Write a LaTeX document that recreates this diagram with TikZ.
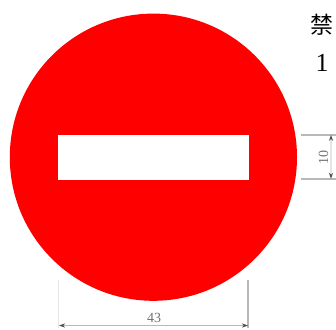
\documentclass[tikz,border=0pt]{standalone}
\usepackage{fontspec}
\setmainfont{Liberation Serif}
\newfontfamily\cjk{Noto Sans CJK SC}
\usetikzlibrary{arrows.meta}
\definecolor{dimgray}{gray}{0.72}
\definecolor{fainter}{gray}{0.90}
\tikzset{
  extline/.style={draw=dimgray,line width=1.4pt},
  faintline/.style={draw=fainter,line width=1.2pt},
  dimline/.style={draw=dimgray,line width=1.4pt,{Stealth[length=6pt,width=4pt,color=black!70]}-{Stealth[length=6pt,width=4pt,color=black!70]}},
  dimtext/.style={text=black!55,font=\fontsize{14}{14}\selectfont,inner sep=0pt},
  sidetext/.style={text=black,inner sep=0pt}
}
\begin{document}
\begin{tikzpicture}[x=1pt,y=-1pt]
\useasboundingbox (0,0) rectangle (336,329);
\fill[white] (0,0) rectangle (336,329);
\fill[red] (153.4,157.2) circle (143.6);
\node[fill=white,minimum width=190.4pt,minimum height=44.7pt,inner sep=0pt,outer sep=0pt] (bar) at (153.5,157.3) {};
\coordinate (wl) at (58.5,280);
\coordinate (wlb) at (58.5,328);
\coordinate (wr) at (247.8,280);
\coordinate (wrb) at (247.8,328);
\coordinate (ht) at (301,134.8);
\coordinate (htr) at (336,134.8);
\coordinate (hb) at (301,178.8);
\coordinate (hbr) at (336,178.8);
\coordinate (da) at (59,325.5);
\coordinate (db) at (248,325.5);
\coordinate (dc) at (331,134.8);
\coordinate (dd) at (331,178.8);
\draw[faintline] (wl) -- (wlb);
\draw[extline] (wr) -- (wrb);
\draw[extline] (ht) -- (htr);
\draw[extline] (hb) -- (hbr);
\draw[dimline] (da) -- (db);
\draw[faintline,{Stealth[length=6pt,width=4pt,color=black!70]}-{Stealth[length=6pt,width=4pt,color=black!70]}] (dc) -- (dd);
\node[dimtext] (w) at (154,318) {43};
\node[dimtext,rotate=90] (h) at (323.5,157) {10};
\node[sidetext,font=\cjk\fontsize{23}{23}\selectfont] (title) at (322,25) {禁};
\node[sidetext,font=\fontsize{26}{26}\selectfont] (num) at (322,62.5) {1};
\end{tikzpicture}
\end{document}
